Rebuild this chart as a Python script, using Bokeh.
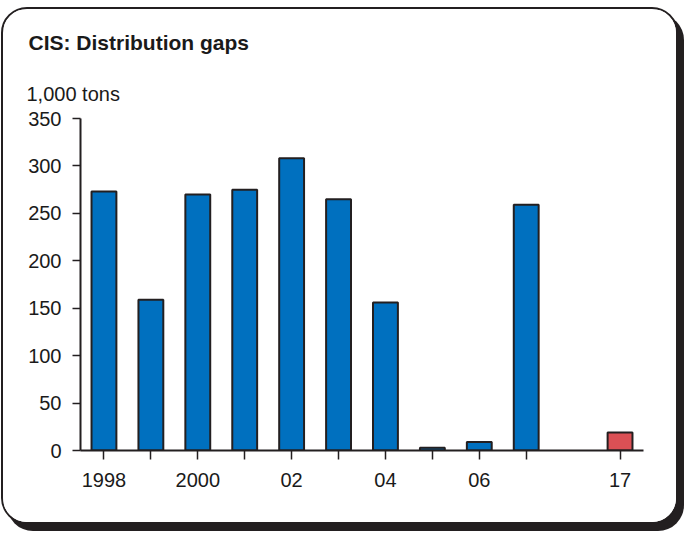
from bokeh.plotting import figure
from bokeh.models import Title, FixedTicker, ColumnDataSource, Range1d
from bokeh.embed import file_html
from bokeh.resources import INLINE

# ---- data ----
years = [1998, 1999, 2000, 2001, 2002, 2003, 2004, 2005, 2006, 2007, 2017]
values = [273, 159, 270, 275, 308, 265, 156, 3, 9, 259, 19]
tick_labels = ["1998", "", "2000", "", "02", "", "04", "", "06", "", "17"]
y_ticks = [0, 50, 100, 150, 200, 250, 300, 350]
title_text = "CIS: Distribution gaps"
unit_text = "1,000 tons"

BLUE = "#0070bf"
RED = "#db5055"
DARK = "#231f20"
FONT = "Liberation Sans"

# slot positions: consecutive years, one empty slot before the 2017 bar
x_pos = [i if y <= 2007 else i + 1 for i, y in enumerate(years)]
colors = [BLUE if y <= 2007 else RED for y in years]

src = ColumnDataSource(dict(x=x_pos, top=values, color=colors))

p = figure(width=677, height=517, output_backend="svg", toolbar_location=None,
           x_range=Range1d(-0.5, 11.5), y_range=Range1d(0, 350),
           min_border_left=77, min_border_right=37, min_border_bottom=76,
           min_border_top=109)

p.styles = {
    "border": f"2px solid {DARK}",
    "border-radius": "26px",
    "box-shadow": f"6px 7px 0 {DARK}",
    "overflow": "hidden",
    "margin-left": "1px",
    "margin-top": "7px",
    "background-color": "white",
}

p.vbar(x="x", top="top", width=0.53, bottom=0, source=src,
       fill_color="color", line_color=DARK, line_width=2)

p.outline_line_color = None
p.grid.visible = False
p.background_fill_color = "white"
p.border_fill_color = "white"

# axes
for ax in (p.xaxis[0], p.yaxis[0]):
    ax.axis_line_color = DARK
    ax.axis_line_width = 2
    ax.major_tick_line_color = DARK
    ax.major_tick_line_width = 1.5
    ax.major_tick_in = 0
    ax.minor_tick_line_color = None
    ax.major_label_text_font = FONT
    ax.major_label_text_font_size = "20px"
    ax.major_label_text_color = "#1a1a1a"

p.xaxis.ticker = FixedTicker(ticks=x_pos)
p.xaxis.major_label_overrides = {x: t for x, t in zip(x_pos, tick_labels)}
p.xaxis.major_tick_out = 9
p.xaxis.major_label_standoff = 13

p.yaxis.ticker = FixedTicker(ticks=y_ticks)
p.yaxis.major_tick_out = 8
p.yaxis.major_label_standoff = 11

# titles (first added sits nearest the plot)
p.add_layout(Title(text=unit_text, align="left", offset=-54,
                   text_font=FONT, text_font_size="20px",
                   text_font_style="normal", text_color="#1a1a1a",
                   standoff=27), "above")
p.add_layout(Title(text=title_text, align="left", offset=-52,
                   text_font=FONT, text_font_size="21px",
                   text_font_style="bold", text_color="#1a1a1a",
                   standoff=28), "above")

open("out.html", "w").write(file_html(p, INLINE))
